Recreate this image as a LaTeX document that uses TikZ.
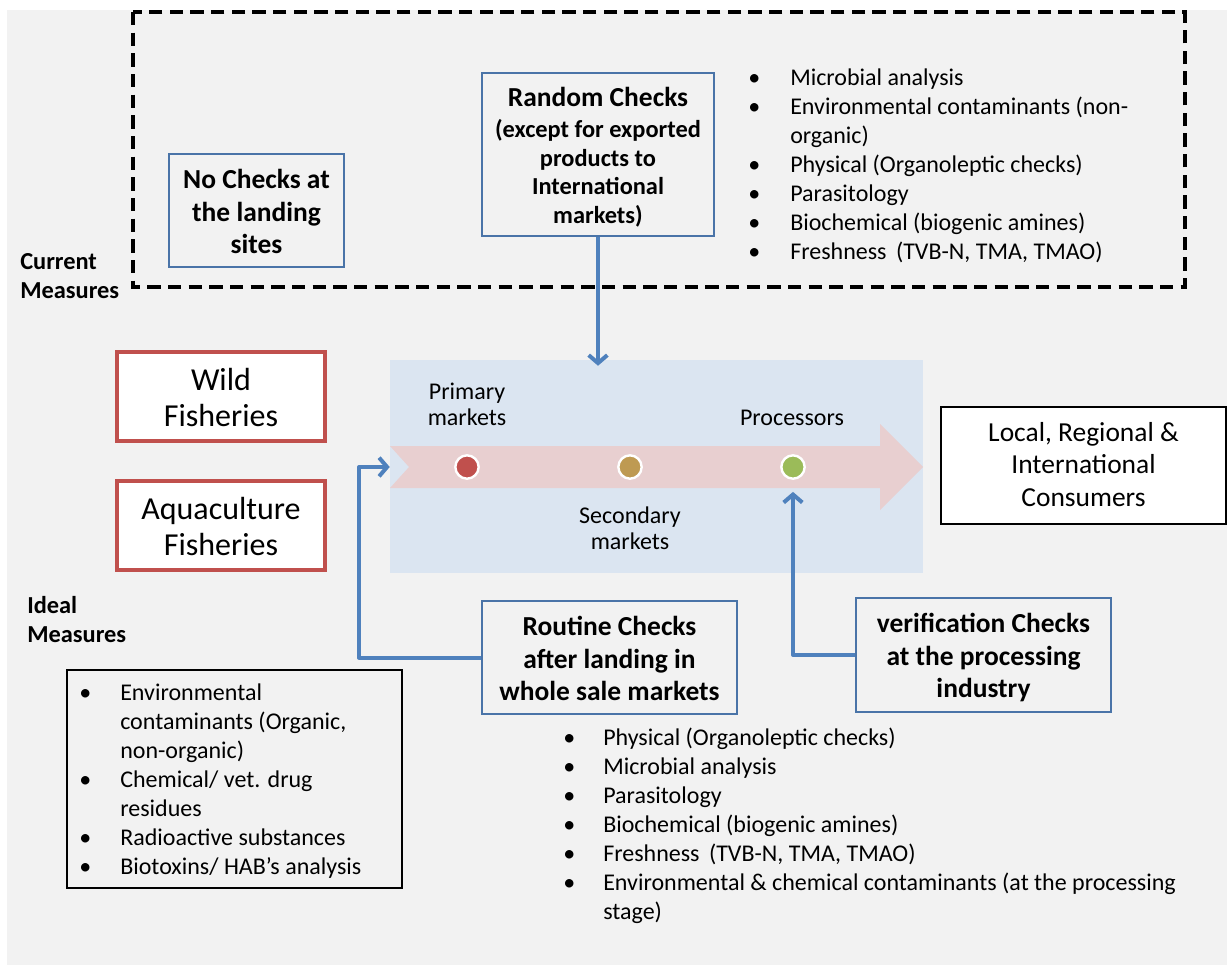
\documentclass[tikz,border=0pt]{standalone}
\usepackage{fontspec}
\setmainfont{Carlito}
\usepackage{array}
\usetikzlibrary{arrows.meta,calc,fit}

\definecolor{pagegray}{HTML}{F2F2F2}
\definecolor{boxblue}{HTML}{4A74A8}
\definecolor{flowblue}{HTML}{4F81BD}
\definecolor{srcred}{HTML}{C0504D}
\definecolor{zoneblue}{HTML}{DBE5F1}
\definecolor{bandpink}{HTML}{E8CFD0}
\definecolor{dotred}{HTML}{C0504D}
\definecolor{dotgold}{HTML}{BE9A52}
\definecolor{dotgreen}{HTML}{9BBB59}

\newcommand{\fs}[2]{\fontsize{#1}{#2}\selectfont}
% bullet list: #1 = width of the bullet column, #2 = rows
\newcommand{\checklist}[2]{%
  {\renewcommand{\arraystretch}{1}%
   \begin{tabular}{@{}p{#1}@{}l@{}}#2\end{tabular}}}

\tikzset{
  frame/.style={inner sep=0pt},
  checkframe/.style={frame, draw=boxblue, line width=1.3pt},
  srcframe/.style={frame, draw=srcred, line width=2.6pt, fill=white},
  endframe/.style={frame, draw=black, line width=2.2pt, fill=white},
  listframe/.style={frame, draw=black, line width=1.1pt},
  boxtext/.style={inner sep=0pt, align=center, yshift=-0.75pt},
  checktext/.style={boxtext, font=\bfseries\fs{20.6}{24.6}},
  srctext/.style={boxtext, font=\fs{24}{27.5}},
  endtext/.style={boxtext, font=\fs{20.6}{24.4}},
  listtext/.style={inner sep=0pt, anchor=north west, font=\fs{18}{21.75}},
  flow/.style={draw=flowblue, line width=3pt, line join=round,
    -{Straight Barb[length=6pt,width=14pt]}},
  stage/.style={circle, draw=white, line width=1.8pt, minimum size=17.5pt, inner sep=0pt},
  stagelabel/.style={inner sep=0pt, align=center, font=\fs{18}{19.5}},
  sidelabel/.style={inner sep=0pt, anchor=west, align=left, font=\bfseries\fs{18.3}{21.75}},
}

\begin{document}
\begin{tikzpicture}[x=0.75pt, y=-0.75pt]
\useasboundingbox (0,0) rectangle (1227,965);
\fill[white] (0,0) rectangle (1227,965);
\fill[pagegray] (7,10) rectangle (1227,965);

% current measures frame
\draw[black, line width=2.5pt, dash pattern=on 10pt off 5.5pt] (133,12) rectangle (1185,287);
\node[sidelabel] (curlbl) at (20,276.5) {Current\\Measures};
\node[checkframe, fit={(169,154)(344,267)}] (nochk) {};
\node[checktext] (nochktxt) at (nochk.center) {No Checks at\\the landing\\sites};
\node[checkframe, fit={(482,73)(714,236)}] (rnd) {};
\node[checktext, font=\bfseries\fs{18.3}{21.5}, yshift=-1.15pt] (rndtxt) at (rnd.center)
  {{\fs{20.6}{21.5}Random Checks}\\[2pt](except for exported\\products to\\International\\markets)};
\node[listtext] (curlist) at (748,65) {\checklist{31.5pt}{%
  \textbullet & Microbial analysis\\
  \textbullet & Environmental contaminants (non-\\
              & organic)\\
  \textbullet & Physical (Organoleptic checks)\\
  \textbullet & Parasitology\\
  \textbullet & Biochemical (biogenic amines)\\
  \textbullet & Freshness\, (TVB-N, TMA, TMAO)}};

% sources
\node[srcframe, fit={(117,352)(325,441)}] (wild) {};
\node[srctext] (wildtxt) at (wild.center) {Wild\\Fisheries};
\node[srcframe, fit={(117,481)(325,570)}] (aqua) {};
\node[srctext] (aquatxt) at (aqua.center) {Aquaculture\\Fisheries};

% market chain
\node[fill=zoneblue, inner sep=0pt, fit={(390,360)(923,573)}] (zone) {};
\fill[bandpink] (390,446) -- (880,446) -- (880,424) -- (923,467) -- (880,510)
  -- (880,488) -- (390,488) -- (409,467) -- cycle;
\node[stage, fill=dotred] (c1) at (467,467) {};
\node[stage, fill=dotgold] (c2) at (630,467) {};
\node[stage, fill=dotgreen] (c3) at (793,467) {};
\node[stagelabel] (lprim) at (467,404) {Primary\\markets};
\node[stagelabel] (lproc) at (792,418) {Processors};
\node[stagelabel] (lsec) at (630,528.5) {Secondary\\markets};

% consumers
\node[endframe, fit={(941,407)(1226,524)}] (cons) {};
\node[endtext, yshift=1.5pt] (constxt) at (cons.center) {Local, Regional \&\\International\\Consumers};

% ideal measures
\node[sidelabel] (idlbl) at (27,619.5) {Ideal\\Measures};
\node[listframe, fit={(67,670)(402,888)}] (idbox) {};
\node[listtext] (idlist) at (79,680) {\checklist{30.75pt}{%
  \textbullet & Environmental\\
              & contaminants (Organic,\\
              & non-organic)\\
  \textbullet & Chemical/ vet. drug\\
              & residues\\
  \textbullet & Radioactive substances\\
  \textbullet & Biotoxins/ HAB’s analysis}};
\node[checkframe, fit={(482,601)(737,714)}] (rout) {};
\node[checktext] (routtxt) at (rout.center) {Routine Checks\\after landing in\\whole sale markets};
\node[checkframe, fit={(856,598)(1111,712)}] (verif) {};
\node[checktext, yshift=-1.25pt] (veriftxt) at (verif.center) {verification Checks\\at the processing\\industry};
\node[listtext] (rlist) at (563,725) {\checklist{30pt}{%
  \textbullet & Physical (Organoleptic checks)\\
  \textbullet & Microbial analysis\\
  \textbullet & Parasitology\\
  \textbullet & Biochemical (biogenic amines)\\
  \textbullet & Freshness\, (TVB-N, TMA, TMAO)\\
  \textbullet & Environmental \& chemical contaminants (at the processing\\
              & stage)}};

% check points into the chain
\draw[flow] (rnd.south) -- ($(rnd.south |- zone.north)+(0,6)$);
\coordinate (rbend) at (359,657.5);
\draw[flow] (rout.west) -- (rbend) |- (zone.west |- c1);
\draw[flow, shorten >=9pt] (verif.west) -| (c3.south);
\end{tikzpicture}
\end{document}
